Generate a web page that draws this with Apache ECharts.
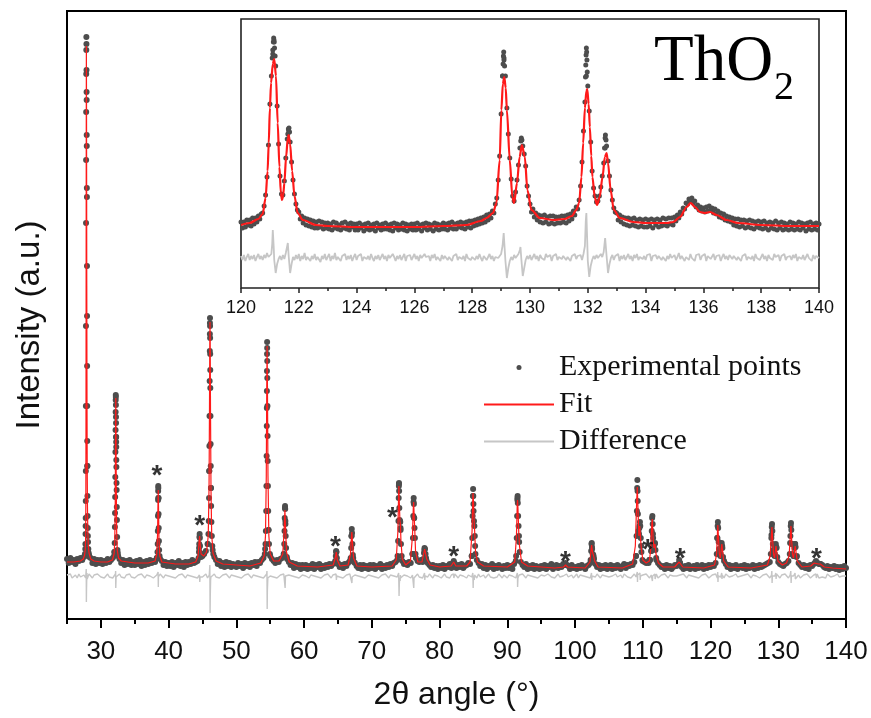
<!DOCTYPE html>
<html><head><meta charset="utf-8">
<script src="https://cdn.jsdelivr.net/npm/echarts@6/dist/echarts.min.js"></script>
<style>html,body{margin:0;padding:0;background:#fff}#c{width:871px;height:718px}</style>
</head><body><div id="c"></div>
<script>
// ---------- main pattern (2θ 25–140°) ----------
const mainTickLabels = [30,40,50,60,70,80,90,100,110,120,130,140];
const mainMinorTicks = [25,35,45,55,65,75,85,95,105,115,125,135];
const mainGridStart = 25, mainGridStep = 0.25;
// experimental intensity read on a 0.25° grid (a.u.)
const mainExpBg = [
7,3,8,4,6,2,7,5,8,6,9,40,100,11,8,3,7,2,6,3,
6,2,5,3,7,4,6,8,14,129,13,7,3,6,1,5,2,6,1,4,
1,5,2,6,0,4,1,5,2,6,3,5,4,8,68,7,5,1,4,0,
3,0,4,-1,3,1,5,0,3,-1,4,1,4,2,6,3,4,5,18,11,
10,12,15,22,95,78,16,9,6,2,5,0,3,-1,4,0,3,-1,2,1,
-1,3,0,2,-2,3,0,2,-1,3,1,4,0,4,3,6,8,17,158,36,
10,7,5,3,6,4,7,8,12,42,7,4,1,3,-2,2,-1,1,-3,1,
-2,1,-3,0,-2,2,-3,1,-1,2,-3,0,-2,1,-1,2,0,2,3,14,
3,-1,1,-2,2,0,3,5,30,8,3,0,-2,1,-3,1,-2,0,-3,1,
-2,1,-3,0,-1,2,-3,0,-2,1,-1,2,0,3,4,6,82,36,5,2,
3,1,4,3,12,48,8,5,4,6,4,16,8,3,1,-1,1,-2,0,-3,
0,-2,1,-3,0,-1,2,-2,3,1,-2,1,-1,2,-2,0,1,3,2,10,
62,20,6,3,0,2,-2,1,-3,0,-1,2,-3,0,-2,1,-1,-3,0,-2,
1,-2,0,-3,2,5,68,24,4,1,-1,2,-3,0,-2,1,-3,0,-1,-3,
0,-2,1,-3,0,-1,2,-3,-1,1,-2,0,-1,2,1,1,0,-3,1,-2,
-1,-3,0,-2,1,-1,-3,0,1,3,19,9,2,-1,1,-3,0,-2,1,-3,
-1,1,-3,0,-2,1,-1,-3,0,2,-2,1,0,2,1,4,10,65,38,20,
5,4,3,4,6,15,32,22,6,3,1,-1,0,-3,1,-2,0,-3,-1,1,
0,2,3,-1,-3,0,-2,1,-3,-1,0,-3,1,-2,-1,1,-3,0,-2,1,
-1,1,0,3,28,17,12,18,5,2,-1,1,-3,0,-2,1,-3,-1,0,-2,
1,-3,0,-2,-1,1,-3,0,-2,1,-1,0,1,2,3,4,31,16,12,18,
4,2,1,0,2,3,5,23,22,10,22,10,3,1,-1,1,-2,0,-3,1,
0,2,4,3,2,2,1,-1,-2,0,-3,-1,-2,0,-3,-1,-4,-1,-3,0,
-2];
// extra experimental points measured across the Bragg peaks [2θ, I]
const mainExpPeaks = [
[27.6,10],[27.65,12],[27.7,17],[27.72,22],[27.74,32],[27.76,48],[27.77,65],[27.78,95],[27.79,160],[27.8,240],[27.81,343],[27.82,406],[27.83,454],[27.84,492],[27.85,516],[27.86,529],[27.87,522],[27.88,496],[27.89,474],[27.9,466],[27.91,431],[27.92,420],[27.93,378],[27.94,369],[27.95,300],[27.96,250],[27.97,200],[27.98,160],[27.99,125],[28.0,100],[28.02,70],[28.04,50],[28.06,38],[28.08,30],[28.1,24],[28.15,17],[28.2,13],[28.3,9],
[31.95,10],[32.0,14],[32.04,23],[32.07,39],[32.09,53],[32.11,69],[32.13,89],[32.15,114],[32.17,136],[32.18,154],[32.19,166],[32.2,171],[32.21,169],[32.22,161],[32.23,149],[32.24,143],[32.25,129],[32.26,124],[32.27,119],[32.28,106],[32.29,99],[32.31,83],[32.33,76],[32.35,59],[32.37,46],[32.4,29],[32.45,16],[32.55,10],
[38.3,8],[38.36,14],[38.39,22],[38.41,35],[38.43,50],[38.45,66],[38.46,75],[38.47,80],[38.48,78],[38.5,68],[38.52,52],[38.54,38],[38.57,25],[38.6,16],[38.66,10],
[44.42,8],[44.48,14],[44.52,22],[44.55,29],[44.58,32],[44.61,28],[44.64,20],[44.7,13],[44.8,9],
[45.8,22],[45.88,32],[45.93,45],[45.97,68],[46.0,95],[46.02,120],[46.04,150],[46.06,185],[46.08,215],[46.09,232],[46.1,243],[46.11,248],[46.12,240],[46.13,228],[46.14,212],[46.15,196],[46.16,178],[46.18,150],[46.2,122],[46.22,100],[46.25,78],[46.28,60],[46.32,44],[46.38,30],[46.45,20],[46.6,12],
[54.2,12],[54.3,22],[54.36,35],[54.41,55],[54.44,80],[54.47,110],[54.49,140],[54.51,175],[54.52,195],[54.53,212],[54.54,224],[54.55,218],[54.56,205],[54.57,188],[54.59,160],[54.61,130],[54.63,105],[54.66,80],[54.7,55],[54.75,36],[54.82,22],[54.95,12],
[57.0,12],[57.07,22],[57.11,35],[57.14,48],[57.17,58],[57.19,60],[57.21,57],[57.24,45],[57.28,30],[57.34,18],[57.45,9],
[64.6,5],[64.68,10],[64.73,15],[64.78,14],[64.84,8],[64.95,2],
[66.88,8],[66.95,18],[67.0,30],[67.04,37],[67.08,33],[67.13,22],[67.2,11],[67.35,4],
[73.8,10],[73.88,25],[73.93,45],[73.97,68],[73.99,80],[74.01,83],[74.03,75],[74.06,58],[74.1,46],[74.15,45],[74.2,44],[74.24,38],[74.3,22],[74.4,10],
[76.0,12],[76.07,28],[76.12,50],[76.16,64],[76.18,68],[76.21,62],[76.25,48],[76.3,38],[76.36,28],[76.45,12],
[77.6,7],[77.7,13],[77.78,18],[77.85,17],[77.93,12],[78.05,6],
[82.0,3],[82.09,5],[82.2,3],
[84.75,10],[84.83,28],[84.88,50],[84.92,70],[84.95,77],[84.98,70],[85.02,55],[85.08,45],[85.14,40],[85.2,30],[85.3,12],
[91.3,10],[91.39,28],[91.45,50],[91.49,66],[91.52,70],[91.55,63],[91.6,50],[91.66,40],[91.72,30],[91.82,14],
[98.5,1],[98.6,3],[98.7,1],
[102.3,6],[102.38,15],[102.43,22],[102.47,23],[102.52,17],[102.6,12],[102.7,11],[102.8,7],
[109.0,10],[109.08,30],[109.13,55],[109.17,78],[109.2,86],[109.23,75],[109.28,52],[109.35,35],[109.45,32],[109.52,40],[109.58,44],[109.63,40],[109.7,28],[109.8,14],[109.95,6],
[110.85,3],[110.97,6],[111.08,6],
[111.25,15],[111.32,35],[111.38,48],[111.42,50],[111.46,42],[111.53,28],[111.62,20],[111.72,22],[111.8,23],[111.87,16],[111.98,8],
[115.25,2],[115.37,6],[115.5,3],
[120.92,12],[121.0,28],[121.05,40],[121.09,44],[121.13,38],[121.2,24],[121.3,12],[121.45,10],[121.58,19],[121.65,23],[121.72,20],[121.85,9],
[128.9,12],[128.98,28],[129.04,39],[129.08,42],[129.13,35],[129.2,22],[129.3,12],[129.45,10],[129.56,18],[129.64,22],[129.72,19],[129.85,9],
[131.7,12],[131.79,30],[131.84,40],[131.88,43],[131.93,36],[132.0,22],[132.12,12],[132.27,10],[132.4,18],[132.48,22],[132.56,19],[132.7,9],
[135.4,3],[135.57,5],[135.8,3],[136.2,2]
];
// calculated (fit) profile [2θ, I]
const mainFit = [
[25,4],[26,4],[27,5],[27.4,7],[27.6,11],[27.7,17],[27.75,28],[27.78,60],[27.8,130],[27.82,260],[27.84,420],[27.86,520],[27.88,470],[27.9,380],[27.92,280],[27.95,170],[27.98,100],[28.02,60],[28.07,36],[28.13,22],[28.25,13],[28.5,7],[29,5],[30,4],[31,4],[31.7,6],[31.95,12],[32.05,25],[32.12,60],[32.17,130],[32.2,168],[32.23,140],[32.27,80],[32.33,35],[32.42,16],[32.6,8],[33,5],[35,3],[37,3],[38,5],[38.25,12],[38.37,32],[38.43,62],[38.47,76],[38.51,60],[38.57,28],[38.7,10],[39,4],[41,2],[43,2],[44,4],[44.35,10],[44.5,24],[44.58,30],[44.65,22],[44.8,12],[45.2,10],[45.6,14],[45.85,30],[45.97,80],[46.03,150],[46.08,225],[46.11,244],[46.14,225],[46.19,150],[46.26,75],[46.36,32],[46.55,13],[47,5],[48,2],[50,1],[52,0],[53.6,3],[54.1,10],[54.3,30],[54.42,90],[54.49,180],[54.54,220],[54.59,180],[54.67,90],[54.8,30],[55,12],[55.5,5],[56.3,5],[56.85,12],[57.05,35],[57.17,56],[57.25,40],[57.4,14],[57.8,4],[59,0],[62,-1],[64.3,1],[64.6,8],[64.75,14],[64.9,6],[65.3,0],[66.5,1],[66.85,12],[66.98,28],[67.05,34],[67.12,26],[67.3,8],[67.8,0],[70,-1],[73,0],[73.6,6],[73.85,35],[73.95,70],[74.0,80],[74.05,65],[74.15,45],[74.22,42],[74.3,25],[74.5,7],[75,1],[75.7,5],[76.0,30],[76.12,58],[76.18,64],[76.25,50],[76.33,38],[76.45,15],[76.8,4],[77.4,4],[77.65,12],[77.8,17],[77.95,12],[78.1,7],[78.6,1],[80,-1],[81.7,0],[82.09,4],[82.4,0],[84,0],[84.5,4],[84.8,35],[84.9,66],[84.94,73],[85.0,65],[85.1,45],[85.18,35],[85.3,15],[85.6,4],[86.5,0],[90,-1],[91.1,4],[91.35,30],[91.47,62],[91.51,66],[91.57,58],[91.7,32],[91.8,20],[92.1,4],[93,0],[97,-2],[98.3,-1],[98.6,1],[98.9,-1],[101.5,-2],[102.2,4],[102.38,17],[102.45,21],[102.55,15],[102.75,10],[102.9,5],[103.4,-1],[107,-2],[108.5,2],[108.9,20],[109.1,65],[109.19,79],[109.3,55],[109.42,30],[109.55,40],[109.62,42],[109.75,20],[110.0,6],[110.5,3],[110.97,5],[111.15,15],[111.33,42],[111.41,47],[111.5,30],[111.65,18],[111.8,22],[111.95,12],[112.3,3],[113,-1],[114.7,-1],[115.37,4],[115.9,-1],[119,-2],[120.6,1],[120.9,12],[121.02,33],[121.08,41],[121.16,30],[121.3,12],[121.45,8],[121.6,18],[121.67,22],[121.75,17],[121.95,5],[122.6,-1],[126,-2],[128.4,1],[128.8,10],[128.98,30],[129.07,39],[129.16,28],[129.3,12],[129.45,8],[129.6,17],[129.66,20],[129.74,16],[129.95,5],[130.6,1],[131.2,3],[131.6,10],[131.78,30],[131.87,40],[131.96,28],[132.1,12],[132.25,8],[132.43,17],[132.5,20],[132.58,16],[132.8,5],[133.5,-1],[134.8,0],[135.3,3],[135.57,4],[135.9,2],[136.2,2],[136.8,-1],[138,-2],[140,-3]
];
// difference curve (offset) on the 0.25° grid
const mainDiffBg = [
-9,-11,-8,-12,-10,-9,-12,-8,-11,-10,-9,-12,-11,-8,-10,-12,-9,-11,-8,-10,
-11,-9,-12,-10,-8,-11,-9,-12,-10,-11,-9,-8,-11,-10,-12,-9,-10,-8,-11,-9,
-12,-10,-9,-11,-8,-10,-12,-9,-11,-10,-8,-12,-10,-9,-11,-8,-10,-12,-9,-11,
-10,-8,-11,-9,-12,-10,-9,-11,-8,-10,-12,-9,-11,-10,-8,-11,-9,-12,-10,-9,
-11,-10,-8,-12,-9,-11,-10,-8,-11,-9,-12,-10,-9,-11,-8,-10,-12,-9,-11,-10,
-8,-11,-9,-12,-10,-9,-11,-8,-10,-12,-9,-11,-10,-8,-11,-9,-12,-10,-9,-11,
-10,-8,-11,-9,-12,-10,-9,-11,-8,-10,-12,-9,-11,-10,-8,-11,-9,-12,-10,-9,
-11,-10,-8,-12,-9,-11,-10,-8,-11,-9,-12,-10,-9,-11,-8,-10,-12,-9,-11,-10,
-8,-11,-9,-12,-10,-9,-11,-8,-10,-12,-9,-11,-10,-8,-11,-9,-12,-10,-9,-11,
-10,-8,-11,-9,-12,-10,-9,-11,-8,-10,-12,-9,-11,-10,-8,-11,-9,-12,-10,-9,
-11,-10,-8,-12,-9,-11,-10,-8,-11,-9,-12,-10,-9,-11,-8,-10,-12,-9,-11,-10,
-9,-12,-10,-8,-11,-10,-12,-9,-11,-8,-10,-12,-9,-11,-10,-8,-12,-9,-10,-11,
-10,-9,-12,-8,-11,-10,-9,-12,-10,-8,-11,-9,-12,-10,-11,-8,-10,-12,-9,-11,
-12,-9,-11,-10,-8,-12,-10,-9,-11,-8,-10,-12,-9,-11,-10,-8,-11,-9,-12,-10,
-9,-11,-10,-12,-8,-10,-11,-9,-12,-10,-8,-11,-9,-10,-12,-8,-11,-10,-9,-12,
-10,-8,-12,-9,-11,-10,-8,-11,-9,-12,-10,-9,-11,-8,-10,-12,-9,-11,-10,-8,
-11,-9,-10,-12,-8,-11,-10,-9,-12,-8,-10,-11,-9,-12,-10,-8,-11,-9,-10,-12,
-9,-11,-8,-10,-12,-9,-11,-10,-8,-12,-10,-9,-11,-8,-10,-12,-9,-11,-10,-8,
-10,-12,-9,-11,-8,-10,-12,-9,-11,-10,-8,-11,-9,-12,-10,-9,-11,-8,-10,-12,
-11,-9,-10,-8,-12,-10,-11,-9,-12,-8,-10,-11,-9,-10,-12,-8,-11,-9,-10,-12,
-9,-11,-8,-10,-12,-9,-11,-10,-8,-12,-10,-9,-11,-8,-10,-12,-9,-11,-10,-8,
-10,-12,-9,-11,-8,-10,-12,-9,-11,-10,-8,-11,-9,-12,-10,-9,-11,-8,-10,-12,
-11,-9,-10,-8,-12,-10,-11,-9,-12,-8,-10,-11,-9,-10,-12,-8,-11,-9,-10,-12,
-10];
const mainDiffPeaks = [
[27.8,-7],[27.84,-3],[27.86,-36],[27.88,-24],[27.91,-14],[27.95,-7],[27.98,-13],
[32.15,-8],[32.18,-5],[32.2,-22],[32.23,-15],[32.3,-12],
[38.42,-8],[38.45,-6],[38.48,-21],[38.52,-13],
[44.55,-9],[44.6,-16],[44.65,-11],
[46.05,-8],[46.09,1],[46.12,-47],[46.15,-30],[46.2,-14],[46.3,-9],
[54.48,-8],[54.52,-5],[54.55,-43],[54.58,-25],[54.65,-12],
[57.15,-8],[57.2,-22],[57.24,-13],
[64.72,-8],[64.77,-14],[64.82,-10],
[67.02,-8],[67.06,-17],[67.1,-11],
[73.96,-7],[73.99,-6],[74.02,-30],[74.06,-18],[74.12,-12],[74.18,-15],[74.22,-9],
[76.14,-7],[76.19,-22],[76.23,-12],
[77.78,-7],[77.82,-14],[77.86,-10],
[82.07,-8],[82.11,-12],
[84.91,-7],[84.93,-5],[84.96,-22],[85.02,-12],[85.12,-14],[85.16,-9],
[91.48,-7],[91.52,-21],[91.57,-12],
[102.43,-7],[102.47,-14],[102.52,-10],
[109.16,-9],[109.19,-6],[109.22,-16],[109.28,-11],[109.58,-7],[109.62,-14],[109.66,-10],
[111.38,-7],[111.42,-15],[111.46,-10],[111.78,-8],[111.82,-13],
[121.06,-6],[121.1,-16],[121.14,-10],[121.65,-7],[121.69,-13],
[129.05,-5],[129.09,-17],[129.13,-10],[129.64,-7],[129.68,-13],
[131.85,-5],[131.9,-17],[131.94,-10],[132.48,-7],[132.52,-13],
[135.55,-8],[135.62,-12]
];
// impurity reflections marked with *
const starMarks = [[38.28,96],[44.58,46],[64.64,25],[73.03,54],[82.09,15],[98.6,10],[110.73,22],[115.51,13],[135.62,13]];

// ---------- inset (2θ 120–140°) ----------
const insetGridStart = 120, insetGridStep = 0.05;
const insetExpBg = [
4,-2,4,-1,6,1,6,0,8,2,8,4,10,7,12,13,20,31,49,81,
122,150,172,184,160,120,82,50,32,31,45,68,87,95,84,64,46,32,22,16,
14,7,10,3,8,1,7,0,6,-1,5,-2,4,-2,5,-1,4,-3,3,-2,
3,-3,2,-4,4,-2,3,-3,1,-4,3,-2,4,-3,2,-4,3,-1,2,-4,
2,-4,3,-2,1,-5,2,-3,3,-4,1,-3,2,-5,3,-2,1,-4,2,-3,
3,-3,1,-4,2,-5,3,-2,2,-4,1,-3,3,-4,2,-5,1,-3,2,-4,
2,-4,3,-3,1,-5,2,-2,3,-4,2,-3,1,-5,3,-3,2,-4,1,-3,
3,-3,2,-4,3,-2,4,-3,2,-3,3,-1,4,-2,3,-3,4,-1,5,-2,
5,0,6,1,7,2,8,3,9,4,11,6,12,8,15,13,22,28,46,70,
112,150,166,150,118,92,68,47,30,25,34,46,61,78,86,80,72,60,40,30,
22,14,17,9,13,6,11,4,10,3,11,4,9,2,10,3,10,2,9,3,
9,3,10,4,10,3,11,5,12,7,15,11,19,17,26,40,64,95,124,150,
140,115,84,55,38,30,24,25,30,39,50,63,78,80,65,50,36,26,18,14,
13,6,11,4,9,2,8,1,8,0,7,1,8,0,6,-1,7,0,6,-1,
7,-1,6,0,7,-2,6,1,7,-1,6,0,8,1,7,0,8,2,8,1,
9,5,11,8,14,12,18,17,23,22,27,25,28,23,25,19,21,16,19,15,
18,14,19,15,20,16,18,13,17,12,15,9,13,8,12,6,10,5,9,4,
8,1,7,0,7,-1,6,0,6,-2,5,-1,6,-2,5,-3,4,-1,5,-2,
4,-3,5,-2,3,-4,4,-2,3,-3,5,-4,3,-2,4,-4,3,-3,2,-4,
4,-3,3,-4,2,-3,4,-4,3,-2,2,-5,3,-3,4,-4,2,-3,3,-4,
2];
const insetExpPeaks = [
[121.08,168],[121.1,176],[121.12,184],[121.13,188],[121.14,186],[121.16,178],[121.18,170],
[121.62,92],[121.64,97],[121.66,98],[121.68,94],
[129.05,150],[129.07,162],[129.08,170],[129.09,174],[129.1,168],[129.12,160],
[129.68,85],[129.7,88],[129.72,86],
[131.92,149],[131.93,161],[131.94,171],[131.95,178],[131.96,174],[131.97,166],[131.98,154],
[132.58,78],[132.6,88],[132.61,91],[132.63,86]
];
const insetFit = [
[120,1],[120.3,3],[120.6,7],[120.75,12],[120.85,28],[120.92,55],[120.96,83],[121.0,118],[121.04,143],[121.1,162],[121.15,167],[121.21,150],[121.27,103],[121.33,59],[121.38,33],[121.42,26],[121.46,31],[121.5,43],[121.56,69],[121.62,88],[121.65,91],[121.7,82],[121.77,55],[121.85,30],[121.96,13],[122.14,6],[122.6,1],[123,0],[124,-1],[125,-1],[126,-1],[127,0],[127.8,1],[128.3,5],[128.5,8],[128.72,13],[128.84,23],[128.95,66],[129.01,116],[129.06,142],[129.11,149],[129.16,138],[129.2,116],[129.3,66],[129.39,29],[129.45,23],[129.55,43],[129.64,69],[129.72,81],[129.82,69],[129.91,36],[130.05,16],[130.34,8],[130.8,6],[131.2,7],[131.45,10],[131.6,16],[131.7,23],[131.78,49],[131.84,83],[131.9,118],[131.95,135],[131.98,137],[132.03,122],[132.07,99],[132.12,70],[132.16,49],[132.24,29],[132.32,21],[132.41,29],[132.51,49],[132.59,69],[132.65,73],[132.7,63],[132.79,36],[132.9,16],[133.11,8],[133.57,4],[134,3],[134.5,3],[134.73,3],[134.96,4],[135.19,9],[135.42,19],[135.56,23],[135.71,19],[135.88,14],[136.05,13],[136.23,14],[136.46,11],[136.8,6],[137.2,3],[138,1],[139,0],[140,0]
];
const insetDiffBg = [
-30,-34,-29,-35,-31,-28,-34,-30,-33,-29,-35,-31,-28,-33,-30,-34,-29,-32,-27,-31,
-30,-28,-4,-34,-47,-38,-33,-30,-34,-29,-33,-27,-20,-30,-47,-38,-31,-34,-29,-33,
-28,-35,-30,-33,-27,-34,-31,-29,-35,-30,-33,-28,-34,-31,-29,-36,-30,-33,-28,-34,
-31,-28,-35,-30,-33,-27,-34,-31,-29,-35,-30,-32,-28,-34,-30,-33,-29,-35,-31,-28,
-34,-30,-32,-28,-35,-31,-29,-33,-30,-34,-28,-32,-35,-30,-33,-29,-34,-31,-28,-33,
-30,-35,-29,-32,-34,-28,-31,-35,-30,-33,-29,-34,-31,-28,-35,-30,-32,-29,-34,-31,
-28,-33,-30,-35,-29,-32,-34,-28,-31,-33,-30,-35,-29,-32,-28,-34,-31,-30,-35,-29,
-33,-30,-28,-34,-31,-29,-35,-30,-32,-28,-34,-31,-29,-33,-30,-35,-28,-32,-30,-34,
-31,-29,-34,-30,-33,-28,-32,-35,-30,-29,-34,-31,-28,-33,-30,-35,-31,-29,-32,-30,
-28,-20,-12,-35,-52,-42,-35,-31,-34,-29,-32,-30,-28,-24,-33,-50,-42,-34,-30,-33,
-29,-34,-31,-28,-33,-30,-35,-29,-32,-30,-34,-28,-31,-33,-29,-35,-30,-32,-28,-34,
-31,-29,-33,-30,-28,-34,-31,-29,-35,-30,-32,-28,-33,-30,-31,-29,-34,-28,-20,13,
-35,-51,-40,-34,-30,-33,-29,-32,-30,-28,-31,-26,-12,-30,-47,-38,-32,-29,-34,-30,
-32,-28,-35,-30,-33,-29,-34,-31,-28,-33,-30,-35,-29,-32,-28,-34,-31,-29,-33,-30,
-34,-29,-31,-28,-35,-30,-32,-29,-33,-30,-28,-34,-31,-29,-35,-30,-33,-28,-32,-30,
-29,-34,-31,-27,-33,-30,-28,-35,-31,-29,-34,-28,-32,-30,-35,-29,-31,-28,-34,-30,
-32,-28,-35,-30,-29,-33,-31,-28,-34,-30,-32,-29,-35,-31,-28,-33,-30,-34,-29,-31,
-33,-30,-28,-34,-31,-29,-35,-30,-32,-28,-34,-31,-29,-33,-30,-35,-28,-32,-30,-34,
-31,-28,-33,-30,-35,-29,-32,-30,-34,-28,-31,-33,-29,-35,-30,-32,-28,-34,-31,-29,
-30,-34,-29,-32,-28,-35,-31,-30,-33,-29,-34,-31,-28,-32,-30,-35,-29,-33,-30,-31,
-32];
const insetDiffPeaks = [[121.08,-18],[121.13,-20],[121.62,-17],[129.09,-7],[129.67,-21],[129.77,-52],[131.93,5],[131.98,-15]];

// ---------- build series data ----------
function onGrid(start, step, vals){ return vals.map((v,i)=>[+(start+i*step).toFixed(3), v]); }
const byX = (a,b)=>a[0]-b[0];
const mainExp = onGrid(mainGridStart, mainGridStep, mainExpBg).concat(mainExpPeaks);
const mainDiff = onGrid(mainGridStart, mainGridStep, mainDiffBg).concat(mainDiffPeaks).sort(byX);
const insetExp = onGrid(insetGridStart, insetGridStep, insetExpBg).concat(insetExpPeaks);
const insetDiff = onGrid(insetGridStart, insetGridStep, insetDiffBg).concat(insetDiffPeaks).sort(byX);

const EXP = '#4d4d4d', FIT = '#ff1a1a', DIF = '#c6c6c6';
const SANS = '"Liberation Sans", Arial, sans-serif';
const SERIF = '"Liberation Serif", "Times New Roman", serif';
const NOICON = {color: 'rgba(0,0,0,0)', borderWidth: 0, borderColor: 'rgba(0,0,0,0)'};

const chart = echarts.init(document.getElementById('c'), null, {renderer:'canvas'});
chart.setOption({
  animation: false,
  backgroundColor: '#fff',
  textStyle: {fontFamily: SANS},
  grid: [
    {left: 67, right: 25, top: 11, bottom: 99, show: true, borderColor: '#000', borderWidth: 2, backgroundColor: 'transparent'},
    {left: 241, right: 52, top: 19, bottom: 430, show: true, borderColor: '#222', borderWidth: 1.6, backgroundColor: '#fff'}
  ],
  xAxis: [
    {gridIndex: 0, type: 'value', position: 'bottom', min: 25, max: 140,
     axisLine: {show: false, onZero: false}, splitLine: {show: false},
     axisTick: {show: true, customValues: mainTickLabels, length: 9, lineStyle: {color: '#000', width: 2}},
     axisLabel: {customValues: mainTickLabels, fontSize: 26, color: '#111', margin: 20, fontFamily: SANS},
     name: '2θ angle (°)', nameLocation: 'middle', nameGap: 60,
     nameTextStyle: {fontSize: 32, color: '#111', fontFamily: SANS}},
    {gridIndex: 0, type: 'value', position: 'bottom', min: 25, max: 140,
     axisLine: {show: false, onZero: false}, splitLine: {show: false}, axisLabel: {show: false},
     axisTick: {show: true, customValues: mainMinorTicks, length: 5, lineStyle: {color: '#000', width: 2}}},
    {gridIndex: 1, type: 'value', position: 'bottom', min: 120, max: 140, interval: 2,
     axisLine: {show: false, onZero: false}, splitLine: {show: false},
     axisTick: {show: true, length: 5, lineStyle: {color: '#222', width: 1.5}},
     minorTick: {show: true, splitNumber: 2, length: 3, lineStyle: {color: '#222', width: 1.5}},
     axisLabel: {fontSize: 18, color: '#111', margin: 11, fontFamily: SANS}}
  ],
  yAxis: [
    {gridIndex: 0, type: 'value', min: -53, max: 555,
     axisLine: {show: false, onZero: false}, axisTick: {show: false}, axisLabel: {show: false}, splitLine: {show: false},
     name: 'Intensity (a.u.)', nameLocation: 'middle', nameGap: 21,
     nameTextStyle: {fontSize: 33, color: '#111', fontFamily: SANS, padding: [0, 20, 0, 0]}},
    {gridIndex: 1, type: 'value', min: -62, max: 207, show: false}
  ],
  legend: {
    orient: 'vertical', left: 483, top: 352, padding: 0, itemGap: 6,
    itemWidth: 70, itemHeight: 5, selectedMode: false,
    data: [
      {name: 'Experimental points'},
      {name: 'Fit', itemStyle: NOICON},
      {name: 'Difference', itemStyle: NOICON}
    ],
    textStyle: {fontSize: 30, lineHeight: 31, color: '#111', fontFamily: SERIF}
  },
  graphic: [
    {type: 'text', x: 654, y: 63, z: 20, style: {text: 'ThO', fontSize: 65, fontFamily: SERIF, fill: '#000', align: 'left', verticalAlign: 'middle'}},
    {type: 'text', x: 774, y: 88, z: 20, style: {text: '2', fontSize: 40, fontFamily: SERIF, fill: '#000', align: 'left', verticalAlign: 'middle'}}
  ],
  series: [
    {name: 'Difference', type: 'line', xAxisIndex: 0, yAxisIndex: 0, data: mainDiff, symbol: 'none',
     lineStyle: {color: DIF, width: 1.4}, itemStyle: {color: DIF}, z: 1, silent: true},
    {name: 'Experimental points', type: 'scatter', xAxisIndex: 0, yAxisIndex: 0, data: mainExp,
     symbol: 'circle', symbolSize: 6, itemStyle: {color: EXP, opacity: 1}, z: 2, silent: true},
    {name: 'Fit', type: 'line', xAxisIndex: 0, yAxisIndex: 0, data: mainFit, symbol: 'none',
     lineStyle: {color: FIT, width: 1.2}, itemStyle: {color: FIT}, z: 3, silent: true},
    {name: 'stars', type: 'scatter', xAxisIndex: 0, yAxisIndex: 0, data: starMarks, symbolSize: 0, z: 4, silent: true,
     label: {show: true, formatter: '*', position: 'inside', offset: [0, 6], fontSize: 28, fontWeight: 'bold', color: '#000', fontFamily: SANS}},
    {name: 'Difference', type: 'line', xAxisIndex: 2, yAxisIndex: 1, data: insetDiff, symbol: 'none',
     lineStyle: {color: DIF, width: 1.8}, itemStyle: {color: DIF}, z: 5, silent: true},
    {name: 'Experimental points', type: 'scatter', xAxisIndex: 2, yAxisIndex: 1, data: insetExp,
     symbol: 'circle', symbolSize: 5, itemStyle: {color: EXP, opacity: 1}, z: 6, silent: true},
    {name: 'Fit', type: 'line', xAxisIndex: 2, yAxisIndex: 1, data: insetFit, symbol: 'none', smooth: 0.3, smoothMonotone: 'x',
     lineStyle: {color: FIT, width: 2.2}, itemStyle: {color: FIT}, z: 7, silent: true}
  ]
});
</script></body></html>
